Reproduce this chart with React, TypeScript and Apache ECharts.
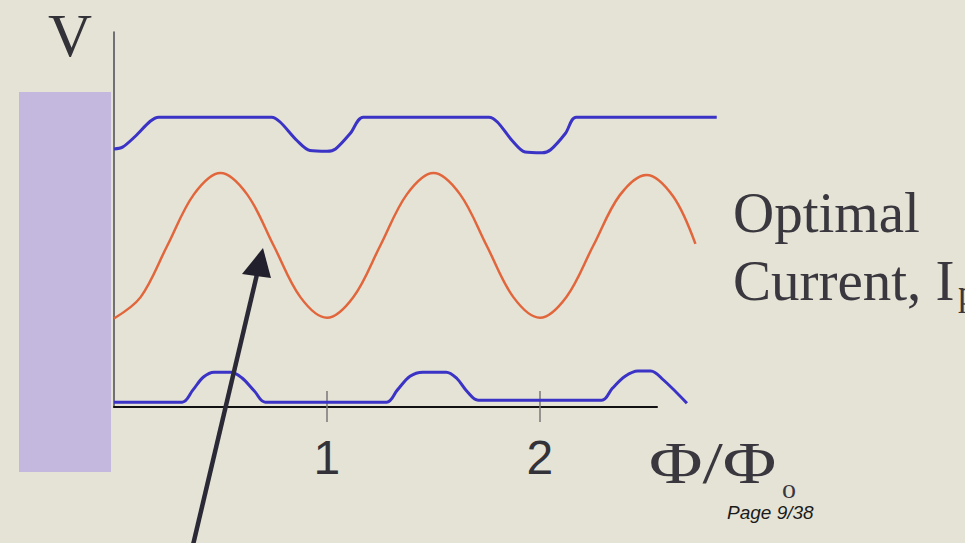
import { useEffect, useRef } from "react";
import * as echarts from "echarts";

// Flux axis ticks (in units of the flux quantum)
const fluxTicks = [1, 2];

// Upper trace: voltage with dips near integer flux (Φ/Φo, V)
const upperTrace: [number, number][] = [
  [0, 6.88], [0.04, 6.93], [0.1, 7.22], [0.17, 7.62], [0.21, 7.73],
  [0.74, 7.73], [0.78, 7.6], [0.86, 7.1], [0.92, 6.84], [1.0, 6.82],
  [1.04, 6.88], [1.11, 7.3], [1.17, 7.73],
  [1.76, 7.73], [1.8, 7.6], [1.87, 7.1], [1.93, 6.8], [2.01, 6.78],
  [2.05, 6.86], [2.12, 7.3], [2.17, 7.73], [2.83, 7.73],
];

// Middle trace: voltage at the optimal bias current (Φ/Φo, V)
const optimalTrace: [number, number][] = [
  [0, 2.36], [0.125, 2.93], [0.25, 4.3], [0.375, 5.67], [0.5, 6.24],
  [0.625, 5.67], [0.75, 4.3], [0.875, 2.93], [1.0, 2.38],
  [1.125, 2.94], [1.25, 4.3], [1.375, 5.67], [1.5, 6.24],
  [1.625, 5.67], [1.75, 4.3], [1.875, 2.93], [2.0, 2.38],
  [2.125, 2.94], [2.25, 4.3], [2.375, 5.65], [2.5, 6.19],
  [2.625, 5.62], [2.73, 4.35],
];

// Lower trace: voltage bumps near half-integer flux (Φ/Φo, V)
const lowerTrace: [number, number][] = [
  [0, 0.13], [0.32, 0.13], [0.37, 0.45], [0.42, 0.8], [0.47, 0.93],
  [0.55, 0.93], [0.6, 0.78], [0.66, 0.42], [0.71, 0.13],
  [1.28, 0.13], [1.33, 0.45], [1.39, 0.82], [1.45, 0.93], [1.56, 0.93],
  [1.61, 0.76], [1.66, 0.4], [1.71, 0.18],
  [2.29, 0.18], [2.34, 0.5], [2.4, 0.82], [2.46, 0.96], [2.52, 0.96],
  [2.58, 0.72], [2.69, 0.1],
];

const BLUE = "#3a33c6";
const RED = "#e2663c";
const INK = "#3a383e";
const SERIF = "'Liberation Serif', 'DejaVu Serif', serif";
const SANS = "'Liberation Sans', Arial, sans-serif";

export default function App() {
  const ref = useRef<HTMLDivElement>(null);

  useEffect(() => {
    const chart = echarts.init(ref.current!, null, { renderer: "svg" });
    const gridBase = { left: 114, top: 32, height: 375, outerBoundsMode: "none" };
    chart.setOption({
      animation: false,
      backgroundColor: "#e5e3d6",
      grid: [
        { ...gridBase, width: 607 },
        { ...gridBase, width: 543 },
        { ...gridBase, width: 543 },
      ],
      xAxis: [
        { type: "value", gridIndex: 0, min: 0, max: 2.85, show: false },
        {
          type: "value",
          gridIndex: 1,
          min: 0,
          max: 2.55,
          axisLine: { show: true, lineStyle: { color: "#111", width: 2 } },
          axisTick: {
            show: true,
            customValues: fluxTicks,
            length: 15,
            lineStyle: { color: "#777", width: 1.5 },
          },
          axisLabel: {
            show: true,
            customValues: fluxTicks,
            fontSize: 48,
            fontFamily: SANS,
            color: "#333238",
            margin: 26,
          },
          splitLine: { show: false },
        },
        {
          type: "value",
          gridIndex: 2,
          min: 0,
          max: 2.55,
          axisLine: { show: false },
          axisTick: {
            show: true,
            inside: true,
            customValues: fluxTicks,
            length: 16,
            lineStyle: { color: "#777", width: 1.5 },
          },
          axisLabel: { show: false },
          splitLine: { show: false },
        },
      ],
      yAxis: [
        {
          type: "value",
          gridIndex: 0,
          min: 0,
          max: 10,
          axisLine: { show: true, lineStyle: { color: "#4a4a55", width: 1.5 } },
          axisTick: { show: false },
          axisLabel: { show: false },
          splitLine: { show: false },
        },
        { type: "value", gridIndex: 1, min: 0, max: 10, show: false },
        { type: "value", gridIndex: 2, min: 0, max: 10, show: false },
      ],
      series: [
        {
          type: "line",
          xAxisIndex: 0,
          yAxisIndex: 0,
          data: upperTrace,
          symbol: "none",
          smooth: 0.3,
          lineStyle: { color: BLUE, width: 3 },
        },
        {
          type: "line",
          xAxisIndex: 0,
          yAxisIndex: 0,
          data: optimalTrace,
          symbol: "none",
          smooth: 0.34,
          lineStyle: { color: RED, width: 2.5 },
        },
        {
          type: "line",
          xAxisIndex: 0,
          yAxisIndex: 0,
          data: lowerTrace,
          symbol: "none",
          smooth: 0.35,
          lineStyle: { color: BLUE, width: 3 },
        },
      ],
      graphic: [
        {
          type: "rect",
          shape: { x: 19, y: 92, width: 92, height: 380 },
          style: { fill: "#c5b8df" },
          z: 0,
        },
        {
          type: "text",
          x: 48,
          y: 35,
          style: {
            text: "V",
            font: `61px ${SERIF}`,
            fill: "#333238",
            verticalAlign: "middle",
          },
        },
        {
          type: "text",
          x: 733,
          y: 212,
          style: {
            text: "Optimal",
            font: `57px ${SERIF}`,
            fill: INK,
            verticalAlign: "middle",
          },
        },
        {
          type: "text",
          x: 733,
          y: 280,
          style: {
            text: "Current, I",
            font: `57px ${SERIF}`,
            fill: INK,
            verticalAlign: "middle",
          },
        },
        {
          type: "text",
          x: 958,
          y: 293,
          style: {
            text: "p",
            font: `36px ${SERIF}`,
            fill: INK,
            verticalAlign: "middle",
          },
        },
        {
          type: "text",
          x: 649,
          y: 462,
          scaleX: 1.22,
          style: {
            text: "Φ/Φ",
            font: `60px ${SERIF}`,
            fill: INK,
            verticalAlign: "middle",
          },
        },
        {
          type: "text",
          x: 782,
          y: 488,
          style: {
            text: "o",
            font: `28px ${SERIF}`,
            fill: INK,
            verticalAlign: "middle",
          },
        },
        {
          type: "text",
          x: 727,
          y: 512,
          style: {
            text: "Page 9/38",
            font: `italic 19px ${SANS}`,
            fill: "#1a1a1a",
            verticalAlign: "middle",
          },
        },
        {
          type: "line",
          shape: { x1: 193, y1: 545, x2: 258, y2: 270 },
          style: { stroke: "#2b2936", lineWidth: 4.5 },
          z: 10,
        },
        {
          type: "polygon",
          shape: { points: [[263, 248], [242, 274], [271, 278]] },
          style: { fill: "#22202c" },
          z: 10,
        },
      ],
    });
    return () => chart.dispose();
  }, []);

  return (
    <div
      ref={ref}
      style={{ position: "fixed", left: 0, top: 0, width: 965, height: 543 }}
    />
  );
}
